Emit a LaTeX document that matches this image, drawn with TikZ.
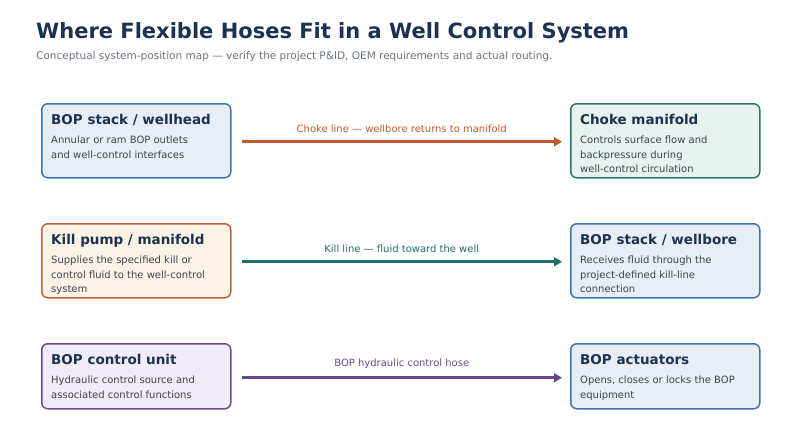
\documentclass[tikz,border=0pt]{standalone}
\usepackage{fontspec}
\setmainfont{DejaVu Sans}
\usetikzlibrary{positioning,arrows.meta}
\definecolor{navy}{HTML}{1B3350}
\definecolor{bodytxt}{HTML}{3D4550}
\definecolor{subgray}{HTML}{6B7480}
\definecolor{bluebd}{HTML}{3A75B0}\definecolor{bluefl}{HTML}{E8EEF7}
\definecolor{orgbd}{HTML}{C0633A}\definecolor{orgfl}{HTML}{FDF2E6}
\definecolor{tealbd}{HTML}{2A7670}\definecolor{tealfl}{HTML}{E8F3EF}
\definecolor{purbd}{HTML}{6A4C93}\definecolor{purfl}{HTML}{F1ECF7}
\definecolor{chokec}{HTML}{C0592B}
\definecolor{killc}{HTML}{1F6F6B}
\definecolor{ctrlc}{HTML}{6A4A8F}
\tikzset{
  box/.style={draw=#1bd,fill=#1fl,line width=1.5pt,rounded corners=6pt,
    minimum width=189pt,anchor=north west},
  boxtitle/.style={anchor=north west,text=navy,font=\fontsize{13.5}{15}\selectfont\bfseries,inner sep=0pt},
  boxbody/.style={anchor=north west,text=bodytxt,font=\fontsize{10}{14.5}\selectfont,align=left,inner sep=0pt},
  hose/.style={line width=3pt,draw=#1,-{Triangle[length=8pt,width=9pt]}},
  hoselabel/.style={text=#1,font=\fontsize{10}{12}\selectfont}
}
\begin{document}
\begin{tikzpicture}[x=1pt,y=-1pt]
    \useasboundingbox (0,0) rectangle (800,436);

    % header
    \node[anchor=west,text=navy,font=\fontsize{21}{24}\selectfont\bfseries,inner sep=0pt] (title) at (36,33) {Where Flexible Hoses Fit in a Well Control System};
    \node[anchor=west,text=subgray,font=\fontsize{10.5}{12}\selectfont,inner sep=0pt] (sub) at (36,57) {Conceptual system-position map — verify the project P\&ID, OEM requirements and actual routing.};

    % source boxes
    \node[box=blue,minimum height=74pt] (bop) at (41,103) {};
    \node[box=org,minimum height=74pt] (kill) at (41,223) {};
    \node[box=pur,minimum height=65pt] (ctrl) at (41,343) {};
    % target boxes
    \node[box=teal,minimum height=74pt] (choke) at (570,103) {};
    \node[box=blue,minimum height=74pt] (well) at (570,223) {};
    \node[box=blue,minimum height=65pt] (act) at (570,343) {};

    % box texts
    \node[boxtitle] (bopt) at (51,114) {BOP stack / wellhead};
    \node[boxbody] at (51,136) {Annular or ram BOP outlets\\and well-control interfaces};
    \node[boxtitle] (killt) at (51,234) {Kill pump / manifold};
    \node[boxbody] at (51,256) {Supplies the specified kill or\\control fluid to the well-control\\system};
    \node[boxtitle] (ctrlt) at (51,354) {BOP control unit};
    \node[boxbody] at (51,376) {Hydraulic control source and\\associated control functions};
    \node[boxtitle] (choket) at (580,114) {Choke manifold};
    \node[boxbody] at (580,136) {Controls surface flow and\\backpressure during\\well-control circulation};
    \node[boxtitle] (wellt) at (580,234) {BOP stack / wellbore};
    \node[boxbody] at (580,256) {Receives fluid through the\\project-defined kill-line\\connection};
    \node[boxtitle] (actt) at (580,354) {BOP actuators};
    \node[boxbody] at (580,376) {Opens, closes or locks the BOP\\equipment};

    % hoses
    \draw[hose=chokec] ([xshift=10pt,yshift=-1pt]bop.east) -- node[above=4pt,hoselabel=chokec] {Choke line — wellbore returns to manifold} ([xshift=-8pt,yshift=-1pt]choke.west);
    \draw[hose=killc] ([xshift=10pt,yshift=-1pt]kill.east) -- node[above=4pt,hoselabel=killc] {Kill line — fluid toward the well} ([xshift=-8pt,yshift=-1pt]well.west);
    \draw[hose=ctrlc] ([xshift=10pt,yshift=-1.5pt]ctrl.east) -- node[above=4pt,hoselabel=ctrlc] {BOP hydraulic control hose} ([xshift=-8pt,yshift=-1.5pt]act.west);
\end{tikzpicture}
\end{document}
